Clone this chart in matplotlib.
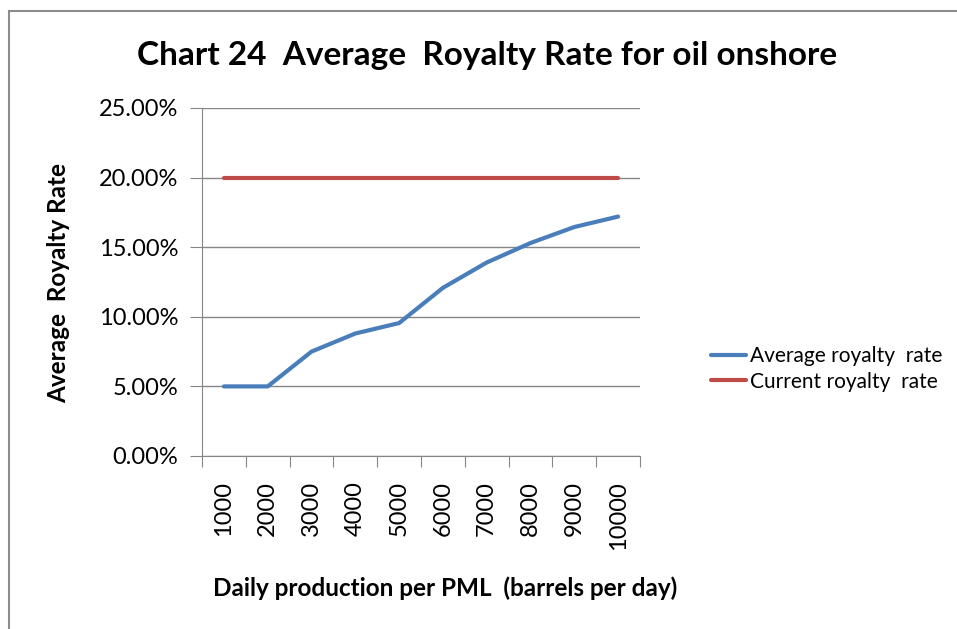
import numpy as np
import matplotlib.pyplot as plt
from matplotlib.lines import Line2D
from matplotlib.ticker import PercentFormatter

# --- DADOS ---
production = ['1000', '2000', '3000', '4000', '5000',
              '6000', '7000', '8000', '9000', '10000']
avg_rate = [5.0, 5.0, 7.5, 8.8, 9.55, 12.08, 13.9, 15.3, 16.45, 17.2]
current_rate = [20.0] * 10

plt.rcParams['font.family'] = ['Lato', 'DejaVu Sans']

fig = plt.figure(figsize=(9.57, 6.29), dpi=100)
ax = fig.add_axes([202 / 957, 1 - 456 / 629, 438 / 957, 348 / 629])

# moldura (só topo e esquerda visíveis no recorte)
frame_kw = dict(transform=fig.transFigure, color='#8c8c8c', lw=1.5)
fig.lines.append(Line2D([9 / 957, 1.0], [1 - 11 / 629] * 2, **frame_kw))
fig.lines.append(Line2D([9 / 957] * 2, [0.0, 1 - 11 / 629], **frame_kw))

x = np.arange(len(production)) + 0.5
ax.plot(x, avg_rate, color='#4A7EBB', lw=3, solid_capstyle='round',
        solid_joinstyle='round', label='Average royalty  rate', zorder=3)
ax.plot(x, current_rate, color='#BE4B48', lw=3, solid_capstyle='round',
        label='Current royalty  rate', zorder=3)

ax.set_xlim(0, len(production))
ax.set_ylim(0, 25)
ax.set_yticks(np.arange(0, 26, 5))
ax.yaxis.set_major_formatter(PercentFormatter(decimals=2))
ax.grid(axis='y', color='#868686', lw=1)
ax.set_axisbelow(True)

# ticks nas fronteiras, rótulos no centro das categorias
ax.set_xticks(np.arange(0, len(production) + 1))
ax.set_xticklabels([])
ax.set_xticks(x, minor=True)
ax.set_xticklabels(production, minor=True, rotation=90, fontsize=17)
ax.tick_params(axis='x', which='major', length=8, color='#868686')
ax.tick_params(axis='x', which='minor', length=0, pad=18)
ax.tick_params(axis='y', length=9, color='#868686', labelsize=17, pad=8)

for s in ['top', 'right']:
    ax.spines[s].set_visible(False)
for s in ['left', 'bottom']:
    ax.spines[s].set_color('#868686')

fig.text(487 / 957, 1 - 55 / 629, 'Chart 24  Average  Royalty Rate for oil onshore',
         ha='center', va='center', fontsize=24, fontweight='bold')
fig.text(59 / 957, 1 - 283 / 629, 'Average  Royalty Rate', rotation=90,
         ha='center', va='center', fontsize=17.5, fontweight='bold')
fig.text(445 / 957, 1 - 588 / 629, 'Daily production per PML  (barrels per day)',
         ha='center', va='center', fontsize=17.5, fontweight='bold')

fig.legend(loc='center left', bbox_to_anchor=(692 / 957, 1 - 369 / 629),
           frameon=False, fontsize=15, handlelength=1.7, handletextpad=0.2,
           labelspacing=0.25)

plt.savefig('out.png', dpi=100)
